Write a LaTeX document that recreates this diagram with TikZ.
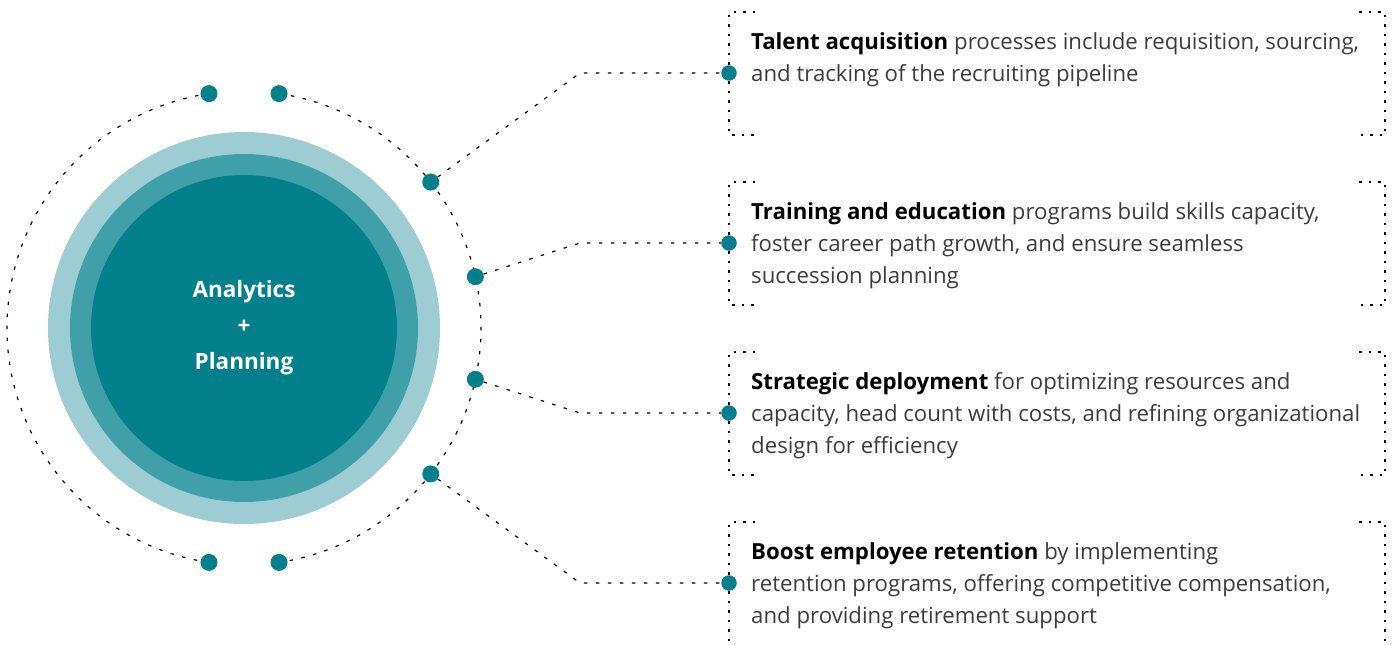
\documentclass[tikz,border=0pt]{standalone}
\usepackage{fontspec}
\setmainfont{Open Sans}
\usetikzlibrary{calc}

\definecolor{tealdark}{RGB}{3,128,140}
\definecolor{tealmid}{RGB}{64,160,170}
\definecolor{teallight}{RGB}{157,204,211}
\definecolor{bodygray}{RGB}{60,60,60}

\tikzset{
  dotline/.style={line width=1.2pt, dash pattern=on 3.5pt off 8.5pt, black},
  boxline/.style={line width=1.2pt, dash pattern=on 2.5pt off 7pt, black},
  tealdot/.style={circle, fill=tealdark, minimum size=17pt, inner sep=0pt},
  boxdot/.style={circle, fill=tealdark, minimum size=15.5pt, inner sep=0pt},
  boxtext/.style={anchor=north west, align=left, inner sep=0pt, text=bodygray,
    font=\fontsize{22.2}{32}\selectfont},
}

\begin{document}
\begin{tikzpicture}[x=1pt, y=-1pt]
  \useasboundingbox (0,0) rectangle (1392,645);
  \coordinate (c) at (244,328);

  % rings
  \fill[teallight] (c) circle[radius=196];
  \fill[tealmid] (c) circle[radius=174];
  \fill[tealdark] (c) circle[radius=153];
  \node[text=white, align=center, font=\bfseries\fontsize{22.5}{36}\selectfont] (hub) at (c) {Analytics\\+\\Planning};

  % orbit
  \draw[dotline] (c) ++(-81.5:237) arc[start angle=-81.5, end angle=81.5, radius=237];
  \draw[dotline] (c) ++(98.5:237) arc[start angle=98.5, end angle=261.5, radius=237];
  \node[tealdot] (otl) at ($(c)+(-98.5:237)$) {};
  \node[tealdot] (otr) at ($(c)+(-81.5:237)$) {};
  \node[tealdot] (oa) at ($(c)+(-38:237)$) {};
  \node[tealdot] (ob) at ($(c)+(-12.5:237)$) {};
  \node[tealdot] (oc) at ($(c)+(12.5:237)$) {};
  \node[tealdot] (od) at ($(c)+(38:237)$) {};
  \node[tealdot] (obr) at ($(c)+(81.5:237)$) {};
  \node[tealdot] (obl) at ($(c)+(98.5:237)$) {};

  % boxes
  \foreach \ytop/\ybot in {12/135, 182/305, 352/475, 522/648} {
    \draw[boxline] (755,\ytop) -- (729,\ytop) -- (729,\ybot) -- (755,\ybot);
    \draw[boxline] (1359,\ytop) -- (1385,\ytop) -- (1385,\ybot) -- (1359,\ybot);
  }
  \node[boxdot] (ka) at (729,73) {};
  \node[boxdot] (kb) at (729,243) {};
  \node[boxdot] (kc) at (729,413) {};
  \node[boxdot] (kd) at (729,583) {};

  % connectors
  \coordinate (bend a) at (580,73);
  \coordinate (bend b) at (580,243);
  \coordinate (bend c) at (580,413);
  \coordinate (bend d) at (580,583);
  \draw[dotline] (oa) -- (bend a) -- (ka);
  \draw[dotline] (ob) -- (bend b) -- (kb);
  \draw[dotline] (oc) -- (bend c) -- (kc);
  \draw[dotline] (od) -- (bend d) -- (kd);

  % texts
  \node[boxtext] (ta) at (751,32) {{\bfseries\color{black}Talent acquisition} processes include requisition, sourcing,\\and tracking of the recruiting pipeline};
  \node[boxtext] (tb) at (751,202) {{\bfseries\color{black}Training and education} programs build skills capacity,\\foster career path growth, and ensure seamless\\succession planning};
  \node[boxtext] (tc) at (751,372) {{\bfseries\color{black}Strategic deployment} for optimizing resources and\\capacity, head count with costs, and refining organizational\\design for efficiency};
  \node[boxtext] (td) at (751,542) {{\bfseries\color{black}Boost employee retention} by implementing\\retention programs, offering competitive compensation,\\and providing retirement support};
\end{tikzpicture}
\end{document}
